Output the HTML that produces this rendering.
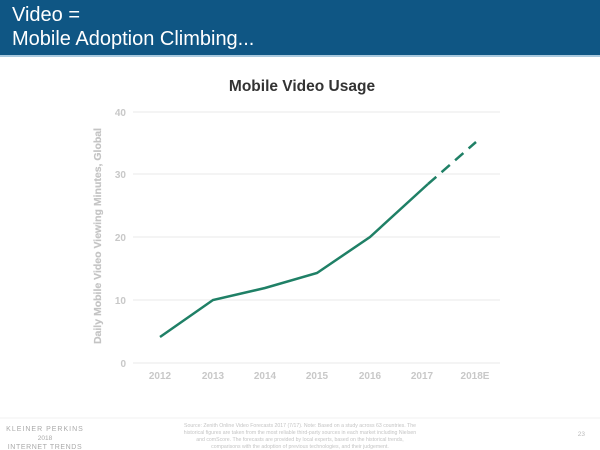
<!DOCTYPE html>
<html><head><meta charset="utf-8"><style>
body{margin:0;width:600px;height:450px;overflow:hidden;background:#fff;font-family:"Liberation Sans",Arial,sans-serif;position:relative}
.hdr{position:absolute;left:0;top:0;width:600px;height:55px;background:#0f5684;border-bottom:2px solid #a9c9de}
.hdr div{position:absolute;left:12px;color:#fff;font-size:20px;line-height:24px}
</style></head><body>
<div class="hdr"><div style="top:3px">Video =</div><div style="top:27px">Mobile Adoption Climbing...</div></div>
<svg width="600" height="450" style="position:absolute;left:0;top:0" font-family="Liberation Sans, Arial, sans-serif">
<text x="302" y="91" text-anchor="middle" font-size="15.5" font-weight="bold" fill="#333">Mobile Video Usage</text>
<g stroke="#e8e8e8" stroke-width="1">
<line x1="133" y1="112" x2="500" y2="112"/><line x1="133" y1="174" x2="500" y2="174"/>
<line x1="133" y1="237" x2="500" y2="237"/><line x1="133" y1="300" x2="500" y2="300"/>
<line x1="133" y1="363" x2="500" y2="363"/></g>
<g fill="#c8c8c8" font-size="10" font-weight="bold" text-anchor="end">
<text x="126" y="116">40</text><text x="126" y="178">30</text><text x="126" y="241">20</text><text x="126" y="304">10</text><text x="126" y="367">0</text></g>
<g fill="#c8c8c8" font-size="10" font-weight="bold" text-anchor="middle">
<text x="160" y="379">2012</text><text x="213" y="379">2013</text><text x="265" y="379">2014</text><text x="317" y="379">2015</text><text x="370" y="379">2016</text><text x="422" y="379">2017</text><text x="475" y="379">2018E</text></g>
<text transform="translate(101,236) rotate(-90)" text-anchor="middle" fill="#c4c4c4" font-size="10.5" font-weight="bold" stroke="#c4c4c4" stroke-width="0.2">Daily Mobile Video Viewing Minutes, Global</text>
<polyline points="160,337 213,300 265,288 317,273 370,237 428,184" fill="none" stroke="#1f8066" stroke-width="2.5"/>
<line x1="428" y1="184" x2="476" y2="142" stroke="#1f8066" stroke-width="2.5" stroke-dasharray="11,7"/>
<line x1="0" y1="418" x2="600" y2="418" stroke="#f0f0f0"/>
<g fill="#aaa" text-anchor="middle">
<text x="45" y="431" letter-spacing="1" font-size="7">KLEINER PERKINS</text>
<text x="45" y="440" font-size="6.5">2018</text>
<text x="45" y="449" letter-spacing="0.6" font-size="7">INTERNET TRENDS</text></g>
<g fill="#c4c4c4" font-size="5.2" text-anchor="middle">
<text x="300" y="427">Source: Zenith Online Video Forecasts 2017 (7/17). Note: Based on a study across 63 countries. The</text>
<text x="300" y="434">historical figures are taken from the most reliable third-party sources in each market including Nielsen</text>
<text x="300" y="441">and comScore. The forecasts are provided by local experts, based on the historical trends,</text>
<text x="300" y="448">comparisons with the adoption of previous technologies, and their judgement.</text></g>
<text x="585" y="436" fill="#bbb" font-size="6.5" text-anchor="end">23</text>
</svg>
</body></html>
